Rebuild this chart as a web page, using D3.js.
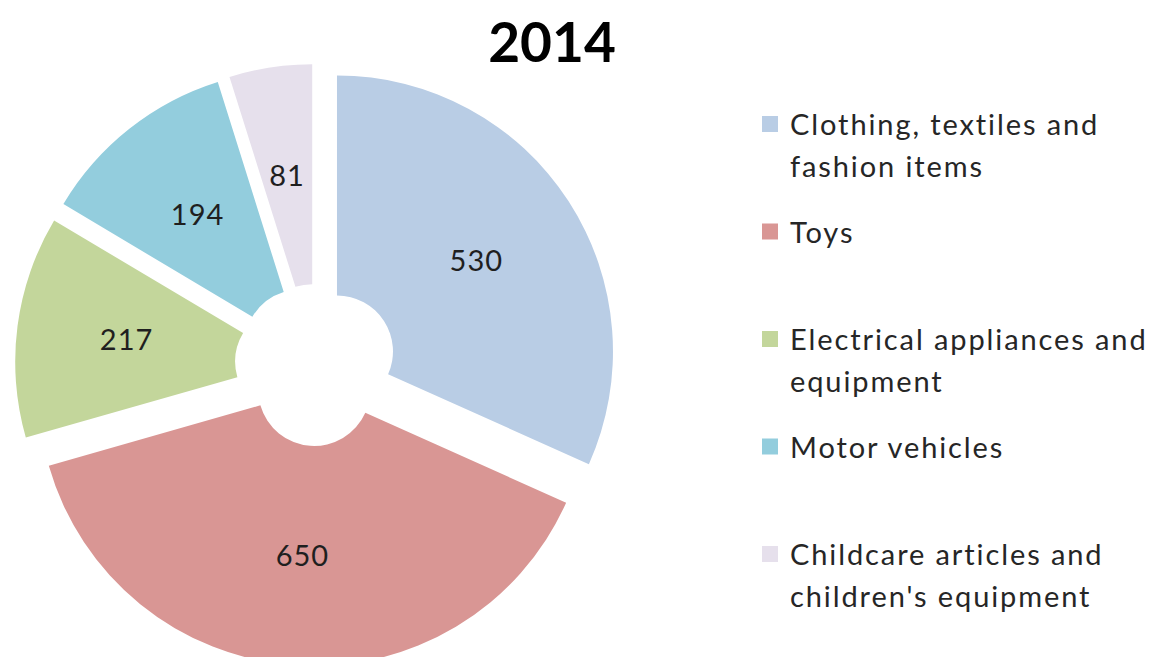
<!DOCTYPE html>
<html>
<head>
<meta charset="utf-8">
<script src="https://cdn.jsdelivr.net/npm/d3@7"></script>
<style>
  body { margin: 0; background: #fff; }
  text { font-family: Lato, "Open Sans", sans-serif; }
</style>
</head>
<body>
<svg id="chart" width="1151" height="657"></svg>
<script>
// data
const categories = [
  "Clothing, textiles and fashion items",
  "Toys",
  "Electrical appliances and equipment",
  "Motor vehicles",
  "Childcare articles and children's equipment"
];
const values = [530, 650, 217, 194, 81];
const legendLines = [
  ["Clothing, textiles and", "fashion items"],
  ["Toys"],
  ["Electrical appliances and", "equipment"],
  ["Motor vehicles"],
  ["Childcare articles and", "children's equipment"]
];
const colors = ["#b9cde5", "#d99694", "#c3d69b", "#93cddd", "#e6e0ec"];
const title = "2014";

const CX = 316, CY = 365;
const OUTER = 276, INNER = 56, EXPLODE = 25;

var svg = d3.select("#chart");

var pie = d3.pie().sort(null).value(function(d) { return d; });
var arc = d3.arc().innerRadius(INNER).outerRadius(OUTER);

var arcs = pie(values);

// push each slice out along its bisector
function offset(d, dist) {
  var a = (d.startAngle + d.endAngle) / 2;
  return [Math.sin(a) * dist, -Math.cos(a) * dist];
}

var g = svg.append("g").attr("transform", "translate(" + CX + "," + CY + ")");

var slice = g.selectAll("g.slice")
  .data(arcs)
  .enter()
  .append("g")
  .attr("class", "slice")
  .attr("transform", function(d) {
    var o = offset(d, EXPLODE);
    return "translate(" + o[0] + "," + o[1] + ")";
  });

slice.append("path")
  .attr("d", arc)
  .attr("fill", function(d, i) { return colors[i]; });

slice.append("text")
  .attr("transform", function(d) {
    return "translate(" + arc.centroid(d) + ")";
  })
  .attr("text-anchor", "middle")
  .attr("dy", "0.35em")
  .attr("font-size", 29)
  .attr("letter-spacing", 1)
  .attr("fill", "#1f1f1f")
  .text(function(d) { return d.data; });

// title
svg.append("text")
  .attr("x", 552)
  .attr("y", 62)
  .attr("text-anchor", "middle")
  .attr("font-size", 55)
  .attr("font-weight", "bold")
  .attr("fill", "#000")
  .text(title);

// legend
var ly = d3.scalePoint()
  .domain(categories)
  .range([135, 565]);

var legend = svg.append("g")
  .selectAll("g")
  .data(categories)
  .enter()
  .append("g")
  .attr("transform", function(d) { return "translate(0," + ly(d) + ")"; });

legend.append("rect")
  .attr("x", 762)
  .attr("y", -19)
  .attr("width", 16)
  .attr("height", 16)
  .attr("fill", function(d, i) { return colors[i]; });

legend.append("text")
  .attr("x", 790)
  .attr("font-size", 29)
  .attr("letter-spacing", 1.9)
  .attr("fill", "#262626")
  .selectAll("tspan")
  .data(function(d, i) { return legendLines[i]; })
  .enter()
  .append("tspan")
  .attr("x", 790)
  .attr("y", function(d, i) { return i * 42; })
  .text(function(d) { return d; });
</script>
</body>
</html>
